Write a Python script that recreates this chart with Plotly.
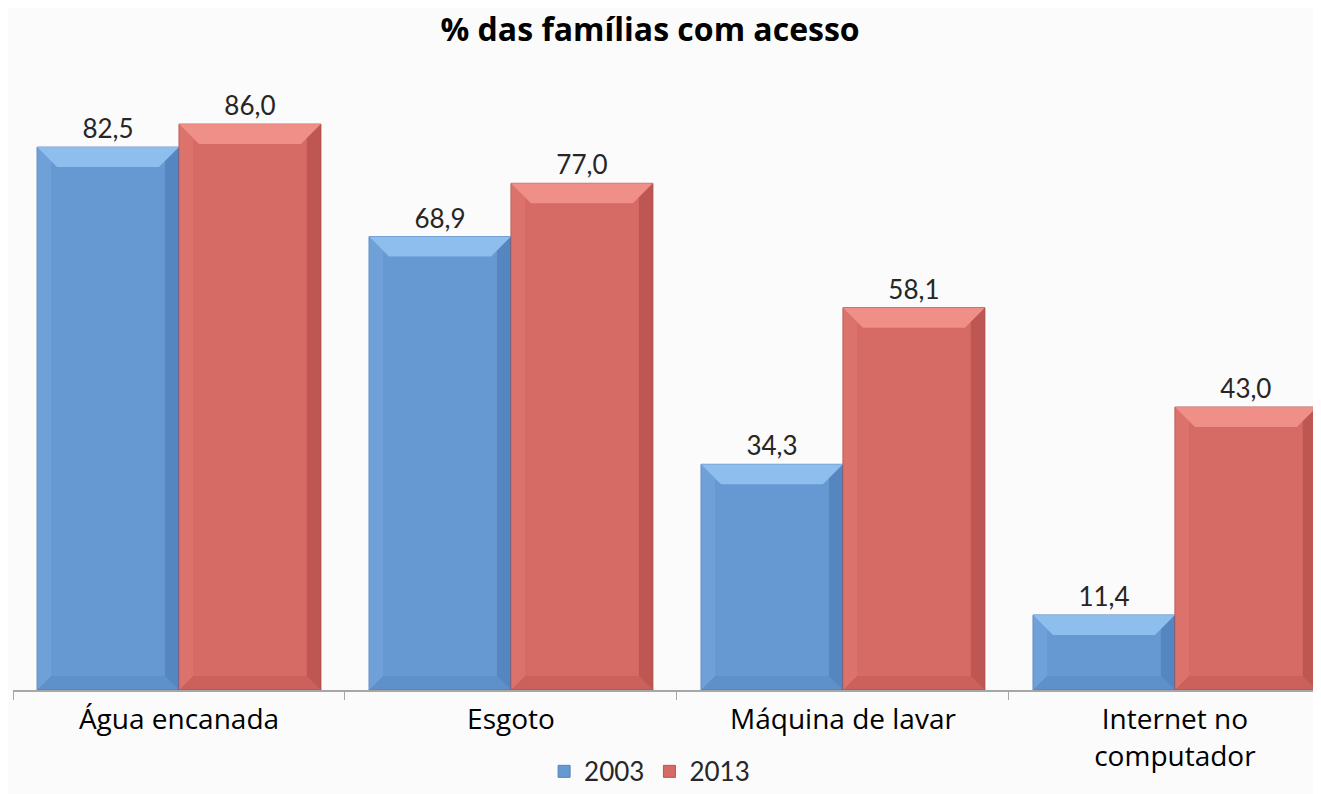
import plotly.graph_objects as go

categories = ["Água encanada", "Esgoto", "Máquina de lavar", "Internet no<br>computador"]
values_2003 = [82.5, 68.9, 34.3, 11.4]
values_2013 = [86.0, 77.0, 58.1, 43.0]
series_names = ["2003", "2013"]

SANS = "'Open Sans', sans-serif"
CAL = "Lato, 'Open Sans', sans-serif"

BLUE = "#6699d2"
RED = "#d66a64"
styles = {
    0: dict(main=BLUE, top="rgba(160,205,250,0.7)", right="rgba(40,80,140,0.25)",
            bottom="rgba(40,80,140,0.12)", left="rgba(150,195,240,0.2)", line="#5683bb"),
    1: dict(main=RED, top="rgba(250,160,150,0.7)", right="rgba(120,30,25,0.25)",
            bottom="rgba(120,30,25,0.12)", left="rgba(245,150,140,0.2)", line="#b85650"),
}

BARGAP = 0.145
fig = go.Figure()
for s, (name, vals) in enumerate([(series_names[0], values_2003), (series_names[1], values_2013)]):
    st = styles[s]
    fig.add_trace(go.Bar(
        x=categories, y=vals, name=name,
        marker=dict(color=st["main"], line=dict(color=st["line"], width=1)),
        texttemplate="%{y:.1f}", textposition="outside",
        textfont=dict(size=26, color="#262626", family=CAL),
        cliponaxis=False,
    ))

# bevel decoration derived from the bar values
W = 1313
H = 786
ML, MT, MB = 5, 72, 104
YMAX = 92.7
XMIN, XMAX = -0.5, 3.44
plot_w = W - ML
plot_h = H - MT - MB
px_x = (XMAX - XMIN) / plot_w
px_y = YMAX / plot_h
bw = (1 - BARGAP) / 2
shapes = []
for s, vals in enumerate([values_2003, values_2013]):
    st = styles[s]
    for i, v in enumerate(vals):
        x0 = i - bw if s == 0 else i
        x1 = x0 + bw
        dx = 20 * px_x
        dy = 20 * px_y
        sdx = 14 * px_x
        sdy = 14 * px_y
        shapes.append(dict(type="path", xref="x", yref="y", layer="above", line=dict(width=0),
                           fillcolor=st["top"],
                           path=f"M {x0} {v} L {x1} {v} L {x1 - dx} {v - dy} L {x0 + dx} {v - dy} Z"))
        shapes.append(dict(type="path", xref="x", yref="y", layer="above", line=dict(width=0),
                           fillcolor=st["right"],
                           path=f"M {x1} {v} L {x1} 0 L {x1 - sdx} {sdy} L {x1 - sdx} {v - sdy} Z"))
        shapes.append(dict(type="path", xref="x", yref="y", layer="above", line=dict(width=0),
                           fillcolor=st["bottom"],
                           path=f"M {x0} 0 L {x1} 0 L {x1 - sdx} {sdy} L {x0 + sdx} {sdy} Z"))
        shapes.append(dict(type="path", xref="x", yref="y", layer="above", line=dict(width=0),
                           fillcolor=st["left"],
                           path=f"M {x0} 0 L {x0} {v} L {x0 + sdx} {v - sdy} L {x0 + sdx} {sdy} Z"))

fig.update_layout(
    width=W, height=H,
    separators=",.",
    barmode="group", bargap=BARGAP, bargroupgap=0.0,
    paper_bgcolor="#fbfbfb", plot_bgcolor="#fbfbfb",
    margin=dict(l=ML, r=0, t=MT, b=MB, autoexpand=False),
    title=dict(text="<b>% das famílias com acesso</b>", x=0.489, xanchor="center",
               y=1 - 22 / H, yanchor="middle",
               font=dict(size=32, color="#000000", family=SANS)),
    font=dict(family=SANS, color="#000000"),
    shapes=shapes,
    showlegend=True,
    legend=dict(orientation="h", x=0.4867, xanchor="center", y=-0.095, yanchor="top",
                font=dict(size=26, color="#262626", family=CAL),
                bgcolor="rgba(0,0,0,0)", itemwidth=30, tracegroupgap=0),
    xaxis=dict(
        range=[XMIN, XMAX], showline=True, linecolor="#a6a6a6", linewidth=1.5,
        ticks="outside", tickson="boundaries", ticklen=8, tickcolor="#a6a6a6",
        ticklabelstandoff=4,
        tickfont=dict(size=28, color="#000000", family=SANS),
        showgrid=False, zeroline=False, fixedrange=True,
    ),
    yaxis=dict(range=[0, YMAX], visible=False, showgrid=False, zeroline=False),
)

fig.write_html("out.html")
